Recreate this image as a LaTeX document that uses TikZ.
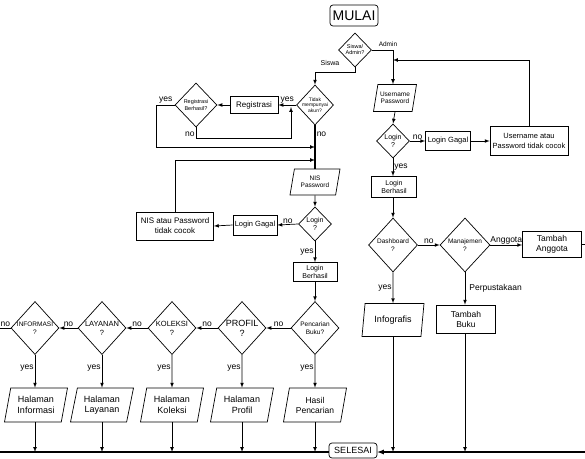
\documentclass[tikz,border=0pt]{standalone}
\usepackage{fontspec}
\setmainfont{Liberation Sans}
\usetikzlibrary{shapes.geometric}
\newcommand{\fsz}[2]{\fontsize{#1}{#2}\selectfont}
\tikzset{
  box/.style={rectangle, draw, align=center, inner sep=1pt},
  term/.style={rectangle, rounded corners=3pt, draw, inner sep=1pt},
  para/.style={trapezium, trapezium left angle=70, trapezium right angle=110,
    trapezium stretches body, draw, align=center, inner sep=0pt},
  dec/.style={diamond, draw, inner sep=0pt},
  dtx/.style={align=center, inner sep=0pt},
  lbl/.style={font=\fsz{8.5}{9}, inner sep=1pt},
}
\begin{document}
\begin{tikzpicture}[x=1pt,y=-1pt,line width=0.7pt,>=latex]
        \useasboundingbox (0,0) rectangle (585,458);

        % start and login of siswa
        \node[term, minimum width=48pt, minimum height=21pt, font=\fsz{14}{15}] (mulai) at (354,15.5) {MULAI};
        \node[dec, minimum width=33pt, minimum height=34pt, label={[dtx,font=\fsz{5.5}{6}]center:Siswa/\\Admin?}] (sa) at (355,50) {};
        \node[dec, minimum width=37pt, minimum height=40pt, label={[dtx,font=\fsz{5}{5.5}]center:Tidak\\mempunyai\\akun?}] (tdk) at (315,105) {};
        \node[box, minimum width=48pt, minimum height=17pt, font=\fsz{8}{9}] (reg) at (254,105) {Registrasi};
        \node[dec, minimum width=42pt, minimum height=44pt, label={[dtx,font=\fsz{5.5}{6.5}]center:Registrasi\\Berhasil?}] (rb) at (196,105) {};
        \node[para, minimum width=50pt, minimum height=26pt, font=\fsz{6.5}{7.5}] (nis) at (315,182) {NIS\\Password};
        \node[dec, minimum width=33pt, minimum height=34pt, label={[dtx,font=\fsz{7}{8}]center:Login\\?}] (lg1) at (315,224) {};
        \node[box, minimum width=44pt, minimum height=20pt, font=\fsz{7.5}{8}] (gag1) at (255,225) {Login Gagal};
        \node[box, minimum width=77pt, minimum height=28pt, font=\fsz{8}{10}] (npc) at (175,226) {NIS atau Password\\tidak cocok};
        \node[box, minimum width=44pt, minimum height=19pt, font=\fsz{7}{8}] (lb1) at (315,272) {Login\\Berhasil};

        % menu of siswa
        \node[dec, minimum width=48pt, minimum height=53pt, label={[dtx,font=\fsz{6.5}{7.5}]center:Pencarian\\Buku?}] (pb) at (315,328) {};
        \node[dec, minimum width=48pt, minimum height=53pt, label={[dtx,font=\fsz{9}{10}]center:PROFIL\\?}] (prof) at (242,328) {};
        \node[dec, minimum width=48pt, minimum height=53pt, label={[dtx,font=\fsz{7.5}{9}]center:KOLEKSI\\?}] (kol) at (172,328) {};
        \node[dec, minimum width=48pt, minimum height=53pt, label={[dtx,font=\fsz{7.5}{9}]center:LAYANAN\\?}] (lay) at (102,328) {};
        \node[dec, minimum width=48pt, minimum height=53pt, label={[dtx,font=\fsz{6.5}{8.5}]center:INFORMASI\\?}] (inf) at (35,328) {};
        \node[para, minimum width=63pt, minimum height=34pt, font=\fsz{8.5}{10}] (hp) at (315,405) {Hasil\\Pencarian};
        \node[para, minimum width=63pt, minimum height=34pt, font=\fsz{9}{10.5}] (hprof) at (242,405) {Halaman\\Profil};
        \node[para, minimum width=63pt, minimum height=34pt, font=\fsz{9}{10.5}] (hkol) at (172,405) {Halaman\\Koleksi};
        \node[para, minimum width=63pt, minimum height=34pt, font=\fsz{9}{10.5}] (hlay) at (102,405) {Halaman\\Layanan};
        \node[para, minimum width=63pt, minimum height=34pt, font=\fsz{9}{10.5}] (hinf) at (36,405) {Halaman\\Informasi};

        % login of admin
        \node[para, minimum width=43pt, minimum height=27pt, font=\fsz{6.5}{7.5}] (up) at (395,98) {Username\\Password};
        \node[dec, minimum width=33pt, minimum height=34pt, label={[dtx,font=\fsz{7}{8}]center:Login\\?}] (lg2) at (393,141) {};
        \node[box, minimum width=45pt, minimum height=19pt, font=\fsz{7.5}{8}] (gag2) at (448,141) {Login Gagal};
        \node[box, minimum width=78pt, minimum height=29pt, font=\fsz{7.5}{10}] (upc) at (529,141) {Username atau\\Password tidak cocok};
        \node[box, minimum width=45pt, minimum height=21pt, font=\fsz{7}{8}] (lb2) at (394,187) {Login\\Berhasil};

        % menu of admin
        \node[dec, minimum width=49pt, minimum height=54pt, label={[dtx,font=\fsz{6.5}{8}]center:Dashboard\\?}] (dash) at (393,245) {};
        \node[dec, minimum width=50pt, minimum height=54pt, label={[dtx,font=\fsz{6.5}{8}]center:Manajemen\\?}] (man) at (465,245) {};
        \node[box, minimum width=59pt, minimum height=26pt, font=\fsz{8.5}{10}] (ta) at (552,244) {Tambah\\Anggota};
        \node[box, minimum width=59pt, minimum height=28pt, font=\fsz{8.5}{10}] (tb) at (466,319) {Tambah\\Buku};
        \node[para, minimum width=62pt, minimum height=33pt, font=\fsz{9}{10}] (info) at (393,320) {Infografis};
        \node[term, minimum width=48pt, minimum height=15pt, font=\fsz{9}{10}] (sel) at (353,450.5) {SELESAI};

        \node[lbl, font=\fsz{6.5}{7}] (ladm) at (388,44) {Admin};
        \node[lbl, font=\fsz{7}{7.5}] (lsis) at (330,63) {Siswa};

        \coordinate (c1) at (393,60);
        \coordinate (c2) at (315,147);
        \coordinate (c3) at (291,107);
        \coordinate (c4) at (315,160);
        \coordinate (bl) at (0,452);
        \coordinate (br) at (585,452);

        % connectors of siswa
        \draw[->] (sa.south) -- ++(0,5) -| (tdk.north);
        \draw[->] (tdk.west) -- node[lbl,above] (y1) {yes} (reg.east);
        \draw[->] (reg.west) -- (rb.east);
        \draw[->] (rb.west) -- node[lbl,above] (y2) {yes} ++(-18,0) |- (c2);
        \draw[->] (rb.south) -- node[lbl,left,pos=0.6] (n1) {no} ++(0,11) -| (c3);
        \draw[line width=1.5pt] (tdk.south) -- node[lbl,right,pos=0.2] (n2) {no} (tdk.south |- nis.north);
        \draw[->] (nis.south) -- (lg1.north);
        \draw[->] (lg1.west) -- node[lbl,above] (n3) {no} (gag1.east);
        \draw[->] (gag1.west) -- (npc.east);
        \draw[->] (npc.north) |- (c4);
        \draw[->] (lg1.south) -- node[lbl,left] (y3) {yes} (lb1.north);
        \draw[->] (lb1.south) -- (pb.north);

        \draw[->] (pb.west) -- node[lbl,above] (n4) {no} (prof.east);
        \draw[->] (prof.west) -- node[lbl,above] (n5) {no} (kol.east);
        \draw[->] (kol.west) -- node[lbl,above] (n6) {no} (lay.east);
        \draw[->] (lay.west) -- node[lbl,above] (n7) {no} (inf.east);
        \draw (inf.west) -- node[lbl,above] (n8) {no} (inf.west -| bl);

        \draw[->] (pb.south) -- node[lbl,left,pos=0.4] (y4) {yes} (hp.north);
        \draw[->] (prof.south) -- node[lbl,left,pos=0.4] (y5) {yes} (hprof.north);
        \draw[->] (kol.south) -- node[lbl,left,pos=0.4] (y6) {yes} (hkol.north);
        \draw[->] (lay.south) -- node[lbl,left,pos=0.4] (y7) {yes} (lay.south |- hlay.north);
        \draw[->] (inf.south) -- node[lbl,left,pos=0.4] (y8) {yes} (inf.south |- hinf.north);

        % connectors of admin
        \draw[->] (sa.east) -| (lg2.north |- up.north);
        \draw[->] (upc.north) |- (c1);
        \draw[->] (up.south) -- (lg2.north);
        \draw[->] (lg2.east) -- node[lbl,above] (n9) {no} (gag2.west);
        \draw[->] (gag2.east) -- (upc.west);
        \draw[->] (lg2.south) -- node[lbl,right] (y9) {yes} (lg2.south |- lb2.north);
        \draw[->] (lg2.south |- lb2.south) -- (dash.north);
        \draw[->] (dash.east) -- node[lbl,above] (n10) {no} (man.west);
        \draw[->] (man.east) -- node[lbl,above,inner sep=0.5pt] (lang) {Anggota} (man.east -| ta.west);
        \draw (ta.east) -- (ta.east -| br);
        \draw[->] (man.south) -- node[lbl,right,xshift=3pt] (lper) {Perpustakaan} (man.south |- tb.north);
        \draw[->] (dash.south) -- node[lbl,left] (y10) {yes} (info.north);

        % to the end
        \draw[->] (hp.south) -- (hp.south |- bl);
        \draw[->] (hprof.south) -- (hprof.south |- bl);
        \draw[->] (hkol.south) -- (hkol.south |- bl);
        \draw[->] (hlay.south) -- (hlay.south |- bl);
        \draw[->] (inf.south |- hinf.south) -- (inf.south |- bl);
        \draw[->] (info.south) -- (info.south |- bl);
        \draw[->] (man.south |- tb.south) -- (man.south |- bl);
        \draw[line width=1.2pt] (bl) -- (bl -| sel.west);
        \draw[line width=1.2pt,->] (br) -- (br -| sel.east);

    \end{tikzpicture}
\end{document}
